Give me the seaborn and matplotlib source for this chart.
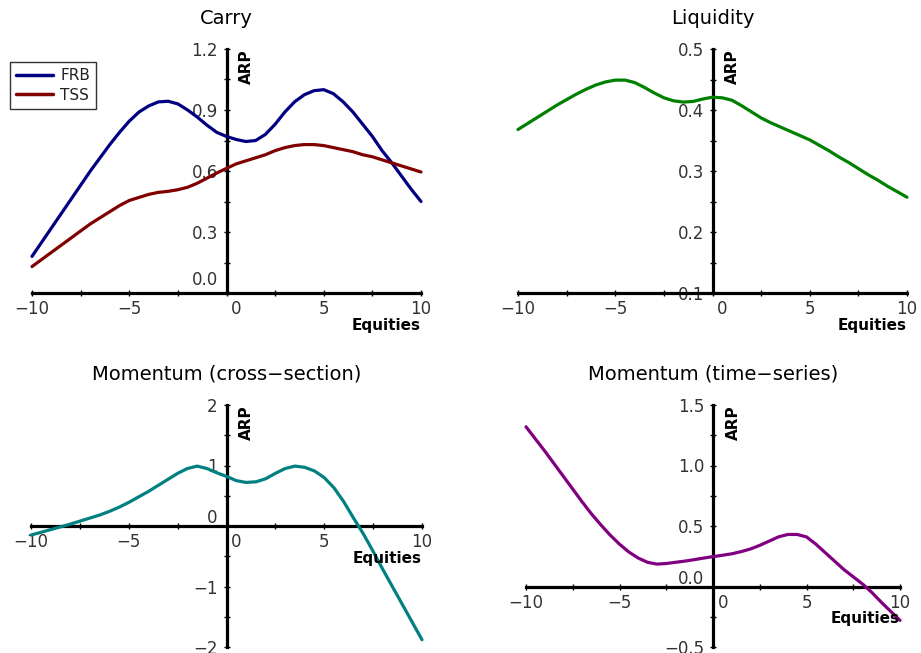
import matplotlib
matplotlib.use("Agg")
import matplotlib.pyplot as plt
import matplotlib.transforms as mtransforms
import numpy as np
import pandas as pd
import seaborn as sns

# equities grid (x values, half steps from -10 to 10)
equities = [i / 2 for i in range(-20, 21)]

# Carry panel
carry_frb = [0.18, 0.25, 0.32, 0.39, 0.46, 0.53, 0.60, 0.665, 0.73, 0.79, 0.845,
             0.89, 0.92, 0.94, 0.943, 0.93, 0.90, 0.865, 0.825, 0.79, 0.77,
             0.755, 0.745, 0.75, 0.78, 0.83, 0.89, 0.94, 0.975, 0.995, 1.00,
             0.98, 0.94, 0.89, 0.83, 0.77, 0.70, 0.64, 0.575, 0.51, 0.45]
carry_tss = [0.13, 0.165, 0.20, 0.235, 0.27, 0.305, 0.34, 0.37, 0.40, 0.43, 0.455,
             0.47, 0.485, 0.495, 0.50, 0.508, 0.52, 0.54, 0.565, 0.59, 0.613,
             0.635, 0.65, 0.665, 0.68, 0.70, 0.715, 0.725, 0.73, 0.73, 0.725,
             0.715, 0.705, 0.695, 0.68, 0.67, 0.655, 0.64, 0.625, 0.61, 0.595]

# Liquidity panel
liquidity = [0.368, 0.378, 0.388, 0.398, 0.408, 0.417, 0.426, 0.434, 0.441, 0.446, 0.449,
             0.449, 0.445, 0.437, 0.428, 0.420, 0.415, 0.413, 0.414, 0.418, 0.421,
             0.420, 0.416, 0.407, 0.397, 0.387, 0.379, 0.372, 0.365, 0.358, 0.351,
             0.342, 0.333, 0.323, 0.314, 0.304, 0.294, 0.285, 0.275, 0.266, 0.257]

# Momentum (cross-section) panel
mom_cs = [-0.15, -0.105, -0.06, -0.015, 0.03, 0.08, 0.13, 0.18, 0.24, 0.31, 0.39,
          0.48, 0.57, 0.67, 0.77, 0.87, 0.95, 0.99, 0.95, 0.88, 0.82,
          0.75, 0.72, 0.73, 0.78, 0.87, 0.95, 0.99, 0.97, 0.91, 0.80,
          0.63, 0.40, 0.13, -0.13, -0.42, -0.72, -1.01, -1.30, -1.59, -1.88]

# Momentum (time-series) panel
mom_ts = [1.32, 1.22, 1.12, 1.015, 0.91, 0.805, 0.70, 0.60, 0.51, 0.425, 0.35,
          0.285, 0.235, 0.20, 0.185, 0.19, 0.20, 0.21, 0.222, 0.235, 0.247,
          0.258, 0.27, 0.288, 0.31, 0.34, 0.375, 0.41, 0.43, 0.43, 0.41,
          0.35, 0.28, 0.21, 0.14, 0.08, 0.02, -0.05, -0.13, -0.205, -0.28]

x_ticks = [-10, -5, 0, 5, 10]
x_ticklabels = ["\u221210", "\u22125", "0", "5", "10"]

carry_yticks = [0.0, 0.3, 0.6, 0.9, 1.2]
carry_ylabels = ["0.0", "0.3", "0.6", "0.9", "1.2"]
liq_yticks = [0.1, 0.2, 0.3, 0.4, 0.5]
liq_ylabels = ["0.1", "0.2", "0.3", "0.4", "0.5"]
cs_yticks = [-2, -1, 0, 1, 2]
cs_ylabels = ["\u22122", "\u22121", "0", "1", "2"]
ts_yticks = [-0.5, 0.0, 0.5, 1.0, 1.5]
ts_ylabels = ["\u22120.5", "0.0", "0.5", "1.0", "1.5"]

sns.set_style("white")
plt.rcParams["font.family"] = ["DejaVu Sans"]
plt.rcParams["text.color"] = "black"

fig = plt.figure(figsize=(9.21, 6.53), dpi=100)

W, H = 921, 653


def make_ax(x0, x1, ytop, ybot):
    return fig.add_axes([x0 / W, 1 - ybot / H, (x1 - x0) / W, (ybot - ytop) / H])


def style(ax, title, ylim, yticks, ylabels, yminor, xaxis_y, shift_y_zero):
    ax.set_xlim(-10, 10)
    ax.set_ylim(*ylim)
    for s in ["top", "right"]:
        ax.spines[s].set_visible(False)
    ax.spines["left"].set_position(("data", 0))
    ax.spines["bottom"].set_position(("data", xaxis_y))
    for s in ["left", "bottom"]:
        ax.spines[s].set_linewidth(2.3)
        ax.spines[s].set_color("black")
        ax.spines[s].set_zorder(1)
    ax.set_xticks(x_ticks)
    ax.set_xticklabels(x_ticklabels)
    ax.set_xticks(np.arange(-10, 10.1, 2.5), minor=True)
    ax.set_yticks(yticks)
    ax.set_yticklabels(ylabels)
    ax.set_yticks(np.arange(ylim[0], ylim[1] + 1e-9, yminor), minor=True)
    ax.tick_params(which="both", bottom=True, left=True, direction="inout",
                   length=4.5, width=1, colors="black", labelsize=12,
                   labelcolor="#333333")
    ax.tick_params(axis="x", which="major", pad=3)
    ax.tick_params(axis="y", which="major", pad=4)
    ax.grid(False)
    ax.set_xlabel("")
    ax.set_ylabel("")
    ax.set_title(title, fontsize=14, pad=18, color="black")

    # nudge the zero labels away from the crossing axes
    for lab in ax.get_xticklabels():
        if lab.get_text() == "0":
            lab.set_transform(lab.get_transform() + mtransforms.ScaledTranslation(7 / 72, 0, fig.dpi_scale_trans))
    if shift_y_zero:
        for lab in ax.get_yticklabels():
            if lab.get_text() in ("0", "0.0"):
                lab.set_transform(lab.get_transform() + mtransforms.ScaledTranslation(0, shift_y_zero / 72, fig.dpi_scale_trans))

    trans_x = mtransforms.blended_transform_factory(ax.transAxes, ax.transData)
    ax.annotate("Equities", xy=(1, xaxis_y), xycoords=trans_x, xytext=(0, -18),
                textcoords="offset points", ha="right", va="top",
                fontsize=11, fontweight="bold", color="black")
    trans_y = mtransforms.blended_transform_factory(ax.transData, ax.transAxes)
    ax.annotate("ARP", xy=(0, 1), xycoords=trans_y, xytext=(9, 0),
                textcoords="offset points", ha="left", va="top", rotation=90,
                fontsize=11, fontweight="bold", color="black")


# Carry
ax1 = make_ax(32, 421, 49, 293)
n = len(equities)
df_carry = pd.DataFrame({"x": equities * 2, "y": carry_frb + carry_tss,
                         "serie": ["FRB"] * n + ["TSS"] * n})
sns.lineplot(data=df_carry, x="x", y="y", hue="serie",
             palette={"FRB": "#000080", "TSS": "#800000"}, linewidth=2.3, ax=ax1)
style(ax1, "Carry", (0, 1.2), carry_yticks, carry_ylabels, 0.15, 0, 11)
leg = ax1.legend(loc="upper left", bbox_to_anchor=(10 / W, 1 - 62 / H),
                 bbox_transform=fig.transFigure, fontsize=11, frameon=True,
                 fancybox=False, borderpad=0.4, handlelength=2.4,
                 labelspacing=0.3, handletextpad=0.5, borderaxespad=0)
leg.get_frame().set_edgecolor("black")
leg.get_frame().set_linewidth(1)
for t in leg.get_texts():
    t.set_color("#222222")
for h in leg.get_lines():
    h.set_linewidth(2.5)

# Liquidity
ax2 = make_ax(518, 907, 49, 293)
sns.lineplot(x=equities, y=liquidity, color="#008000", linewidth=2.3, ax=ax2)
style(ax2, "Liquidity", (0.1, 0.5), liq_yticks, liq_ylabels, 0.05, 0.1, 0)

# Momentum (cross-section)
ax3 = make_ax(31, 422, 405, 647)
sns.lineplot(x=equities, y=mom_cs, color="#008080", linewidth=2.3, ax=ax3)
style(ax3, "Momentum (cross\u2212section)", (-2, 2), cs_yticks, cs_ylabels, 0.5, 0, 7)

# Momentum (time-series)
ax4 = make_ax(526, 900, 405, 647)
sns.lineplot(x=equities, y=mom_ts, color="#800080", linewidth=2.3, ax=ax4)
style(ax4, "Momentum (time\u2212series)", (-0.5, 1.5), ts_yticks, ts_ylabels, 0.25, 0, 7)

for ax in (ax1, ax2, ax3, ax4):
    for line in ax.get_lines():
        line.set_clip_on(False)
        line.set_solid_capstyle("round")
        line.set_solid_joinstyle("round")

fig.savefig("out.png", dpi=100)
